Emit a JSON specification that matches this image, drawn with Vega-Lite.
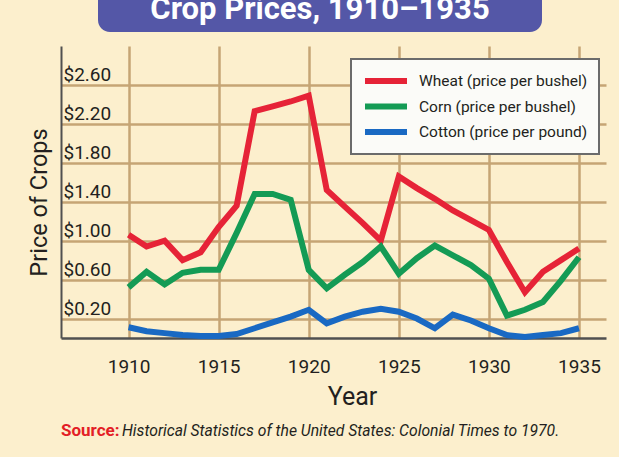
{
  "$schema": "https://vega.github.io/schema/vega-lite/v6.json",
  "background": "#fcefcd",
  "padding": {"top": -12, "left": 27, "right": 13, "bottom": 18},
  "config": {
    "font": "Roboto, 'Liberation Sans', sans-serif",
    "view": {"stroke": null}
  },
  "spacing": 14,
  "resolve": {"legend": {"color": "independent"}},
  "title": {
    "text": "Historical Statistics of the United States: Colonial Times to 1970.",
    "orient": "bottom",
    "anchor": "start",
    "frame": "group",
    "dx": 61,
    "offset": -15,
    "fontSize": 15.7,
    "fontStyle": "italic",
    "fontWeight": "normal",
    "color": "#231f20"
  },
  "vconcat": [
    {
      "spacing": 0,
      "hconcat": [
        {
          "width": 37,
          "height": 44,
          "data": {"values": []},
          "mark": {"type": "text"},
          "encoding": {}
        },
        {
          "width": 444,
          "height": 44,
          "view": {"fill": "#5457a7", "stroke": null, "cornerRadius": 12},
          "data": {"values": [{"heading": "Crop Prices, 1910–1935"}]},
          "mark": {"type": "text", "color": "#ffffff", "fontSize": 31, "fontWeight": "bold", "baseline": "middle", "align": "center"},
          "encoding": {"text": {"field": "heading"}}
        }
      ]
    },
    {
      "width": 545,
      "height": 292,
      "title": {
        "text": "Source:",
        "orient": "bottom",
        "anchor": "start",
        "frame": "group",
        "color": "#e31e26",
        "fontSize": 17,
        "fontWeight": "bold",
        "offset": 14
      },
      "data": {"values": [
        {"year": 1910, "crop": "Wheat", "price": 1.06},
        {"year": 1911, "crop": "Wheat", "price": 0.94},
        {"year": 1912, "crop": "Wheat", "price": 1.00},
        {"year": 1913, "crop": "Wheat", "price": 0.80},
        {"year": 1914, "crop": "Wheat", "price": 0.88},
        {"year": 1915, "crop": "Wheat", "price": 1.14},
        {"year": 1916, "crop": "Wheat", "price": 1.36},
        {"year": 1917, "crop": "Wheat", "price": 2.33},
        {"year": 1918, "crop": "Wheat", "price": 2.38},
        {"year": 1919, "crop": "Wheat", "price": 2.43},
        {"year": 1920, "crop": "Wheat", "price": 2.49},
        {"year": 1921, "crop": "Wheat", "price": 1.52},
        {"year": 1922, "crop": "Wheat", "price": 1.35},
        {"year": 1923, "crop": "Wheat", "price": 1.18},
        {"year": 1924, "crop": "Wheat", "price": 1.00},
        {"year": 1925, "crop": "Wheat", "price": 1.66},
        {"year": 1926, "crop": "Wheat", "price": 1.54},
        {"year": 1927, "crop": "Wheat", "price": 1.43},
        {"year": 1928, "crop": "Wheat", "price": 1.31},
        {"year": 1929, "crop": "Wheat", "price": 1.21},
        {"year": 1930, "crop": "Wheat", "price": 1.11},
        {"year": 1931, "crop": "Wheat", "price": 0.78},
        {"year": 1932, "crop": "Wheat", "price": 0.47},
        {"year": 1933, "crop": "Wheat", "price": 0.68},
        {"year": 1934, "crop": "Wheat", "price": 0.80},
        {"year": 1935, "crop": "Wheat", "price": 0.92},
        {"year": 1910, "crop": "Corn", "price": 0.52},
        {"year": 1911, "crop": "Corn", "price": 0.68},
        {"year": 1912, "crop": "Corn", "price": 0.55},
        {"year": 1913, "crop": "Corn", "price": 0.67},
        {"year": 1914, "crop": "Corn", "price": 0.70},
        {"year": 1915, "crop": "Corn", "price": 0.70},
        {"year": 1916, "crop": "Corn", "price": 1.08},
        {"year": 1917, "crop": "Corn", "price": 1.48},
        {"year": 1918, "crop": "Corn", "price": 1.48},
        {"year": 1919, "crop": "Corn", "price": 1.42},
        {"year": 1920, "crop": "Corn", "price": 0.70},
        {"year": 1921, "crop": "Corn", "price": 0.51},
        {"year": 1922, "crop": "Corn", "price": 0.65},
        {"year": 1923, "crop": "Corn", "price": 0.78},
        {"year": 1924, "crop": "Corn", "price": 0.94},
        {"year": 1925, "crop": "Corn", "price": 0.66},
        {"year": 1926, "crop": "Corn", "price": 0.82},
        {"year": 1927, "crop": "Corn", "price": 0.95},
        {"year": 1928, "crop": "Corn", "price": 0.85},
        {"year": 1929, "crop": "Corn", "price": 0.75},
        {"year": 1930, "crop": "Corn", "price": 0.61},
        {"year": 1931, "crop": "Corn", "price": 0.23},
        {"year": 1932, "crop": "Corn", "price": 0.29},
        {"year": 1933, "crop": "Corn", "price": 0.37},
        {"year": 1934, "crop": "Corn", "price": 0.59},
        {"year": 1935, "crop": "Corn", "price": 0.83},
        {"year": 1910, "crop": "Cotton", "price": 0.11},
        {"year": 1911, "crop": "Cotton", "price": 0.07},
        {"year": 1912, "crop": "Cotton", "price": 0.05},
        {"year": 1913, "crop": "Cotton", "price": 0.03},
        {"year": 1914, "crop": "Cotton", "price": 0.02},
        {"year": 1915, "crop": "Cotton", "price": 0.02},
        {"year": 1916, "crop": "Cotton", "price": 0.04},
        {"year": 1917, "crop": "Cotton", "price": 0.10},
        {"year": 1918, "crop": "Cotton", "price": 0.16},
        {"year": 1919, "crop": "Cotton", "price": 0.22},
        {"year": 1920, "crop": "Cotton", "price": 0.29},
        {"year": 1921, "crop": "Cotton", "price": 0.15},
        {"year": 1922, "crop": "Cotton", "price": 0.22},
        {"year": 1923, "crop": "Cotton", "price": 0.27},
        {"year": 1924, "crop": "Cotton", "price": 0.30},
        {"year": 1925, "crop": "Cotton", "price": 0.27},
        {"year": 1926, "crop": "Cotton", "price": 0.20},
        {"year": 1927, "crop": "Cotton", "price": 0.10},
        {"year": 1928, "crop": "Cotton", "price": 0.24},
        {"year": 1929, "crop": "Cotton", "price": 0.18},
        {"year": 1930, "crop": "Cotton", "price": 0.10},
        {"year": 1931, "crop": "Cotton", "price": 0.03},
        {"year": 1932, "crop": "Cotton", "price": 0.01},
        {"year": 1933, "crop": "Cotton", "price": 0.03},
        {"year": 1934, "crop": "Cotton", "price": 0.05},
        {"year": 1935, "crop": "Cotton", "price": 0.10}
      ]},
      "mark": {"type": "line", "strokeWidth": 6},
      "encoding": {
        "x": {
          "field": "year",
          "type": "quantitative",
          "scale": {"domain": [1906.25, 1936.5], "nice": false, "zero": false},
          "axis": {
            "values": [1910, 1915, 1920, 1925, 1930, 1935],
            "format": "d",
            "title": "Year",
            "titleFontSize": 25,
            "titleFontWeight": "normal",
            "titleColor": "#231f20",
            "titleX": 291,
            "titleY": 66,
            "titleBaseline": "alphabetic",
            "titleAlign": "center",
            "labelFontSize": 19,
            "labelColor": "#231f20",
            "labelBaseline": "alphabetic",
            "labelPadding": 34,
            "ticks": false,
            "tickSize": 0,
            "labelFlush": false,
            "labelOverlap": false,
            "domainColor": "#505050",
            "domainWidth": 2.5,
            "grid": true,
            "gridColor": "#c6a574",
            "gridWidth": 2.5,
            "gridOpacity": 1
          }
        },
        "y": {
          "field": "price",
          "type": "quantitative",
          "scale": {"domain": [0, 3], "nice": false},
          "axis": {
            "values": [0.2, 0.6, 1.0, 1.4, 1.8, 2.2, 2.6],
            "format": "$.2f",
            "title": "Price of Crops",
            "titleFontSize": 23.5,
            "titleFontWeight": "normal",
            "titleColor": "#231f20",
            "titleX": -15,
            "titleY": 156,
            "titleBaseline": "alphabetic",
            "titleAlign": "center",
            "titleAngle": -90,
            "labelAlign": "left",
            "labelPadding": -2,
            "labelBaseline": "alphabetic",
            "labelOffset": -4,
            "labelFontSize": 19,
            "labelColor": "#231f20",
            "labelFlush": false,
            "labelOverlap": false,
            "ticks": false,
            "tickSize": 0,
            "domainColor": "#505050",
            "domainWidth": 2,
            "grid": true,
            "gridColor": "#c6a574",
            "gridWidth": 2.5,
            "gridOpacity": 1
          }
        },
        "color": {
          "field": "crop",
          "type": "nominal",
          "scale": {"domain": ["Wheat", "Corn", "Cotton"], "range": ["#e62337", "#149b55", "#1969c3"]},
          "legend": {
            "title": null,
            "orient": "none",
            "legendX": 290,
            "legendY": 13,
            "direction": "vertical",
            "symbolType": "stroke",
            "symbolSize": 1764,
            "symbolStrokeWidth": 6,
            "clipHeight": 22,
            "rowPadding": 3.5,
            "padding": 11,
            "labelOffset": 9,
            "labelFontSize": 15.5,
            "labelColor": "#231f20",
            "labelLimit": 0,
            "fillColor": "#fbfbf8",
            "strokeColor": "#6b6b6b",
            "labelExpr": "datum.label == 'Cotton' ? 'Cotton (price per pound)' : datum.label + ' (price per bushel)'",
            "encode": {"legend": {"update": {"strokeWidth": {"value": 2}}}}
          }
        }
      }
    }
  ]
}
